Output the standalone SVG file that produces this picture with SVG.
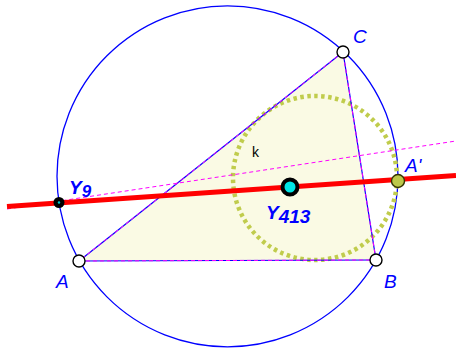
<svg xmlns="http://www.w3.org/2000/svg" width="456" height="349" viewBox="0 0 456 349">
<style>
.lbl{font-family:"Liberation Sans",Arial,sans-serif;font-style:italic;fill:#0000ff;font-size:19px}
.b{font-weight:bold}
.pt{fill:#ffffff;stroke:#000000;stroke-width:1.4}
.edge{stroke:#0000ff;stroke-width:1.2;fill:none}
.dash{stroke:#ff00ff;stroke-width:1;stroke-dasharray:4,3;fill:none}
</style>
<rect width="456" height="349" fill="#ffffff"/>
<g id="triangle">
<polygon points="79,261 376,260 343,52" fill="#fafae4" stroke="none"/>
</g>
<g id="circumcircle"><circle cx="227.5" cy="176.3" r="170.5" fill="none" stroke="#0000ff" stroke-width="1.3"/></g>
<g id="k"><circle cx="315" cy="178" r="82" fill="none" stroke="#c0cc4c" stroke-width="4.5" stroke-dasharray="3.5,3.5"/></g>
<g id="connectors">
<line class="edge" x1="79" y1="261" x2="376" y2="260"/>
<line class="edge" x1="376" y1="260" x2="343" y2="52"/>
<line class="edge" x1="343" y1="52" x2="79" y2="261"/>
<line class="dash" x1="79" y1="261" x2="376" y2="260"/>
<line class="dash" x1="376" y1="260" x2="343" y2="52"/>
<line class="dash" x1="343" y1="52" x2="79" y2="261"/>
<line class="dash" x1="7" y1="209" x2="456" y2="141"/>
<line x1="7" y1="206.5" x2="456" y2="175.5" stroke="#ff0000" stroke-width="5"/>
</g>
<g id="A"><circle class="pt" cx="79" cy="261" r="6"/><text class="lbl" x="56" y="288">A</text></g>
<g id="B"><circle class="pt" cx="376" cy="260" r="6"/><text class="lbl" x="384" y="288">B</text></g>
<g id="C"><circle class="pt" cx="343" cy="52" r="6"/><text class="lbl" x="353" y="43">C</text></g>
<g id="Aprime"><circle cx="398" cy="181" r="6.5" fill="#bcc84a" stroke="#333300" stroke-width="1.4"/><text class="lbl" x="405" y="172">A'</text></g>
<g id="Y9"><circle cx="59" cy="202.5" r="5.5" fill="#000000"/><circle cx="59" cy="202.5" r="1.2" fill="#00cccc"/><text class="lbl b" x="69" y="194" font-size="20">Y<tspan font-size="17" dy="3">9</tspan></text></g>
<g id="Y413"><circle cx="290" cy="187" r="7.5" fill="#00e5e5" stroke="#000000" stroke-width="4"/><text class="lbl b" x="266" y="219" font-size="20">Y<tspan font-size="19" dy="4">413</tspan></text></g>
<g id="klabel"><text x="252" y="157" font-family="Liberation Sans,Arial,sans-serif" font-size="14" fill="#000000">k</text></g>
</svg>
